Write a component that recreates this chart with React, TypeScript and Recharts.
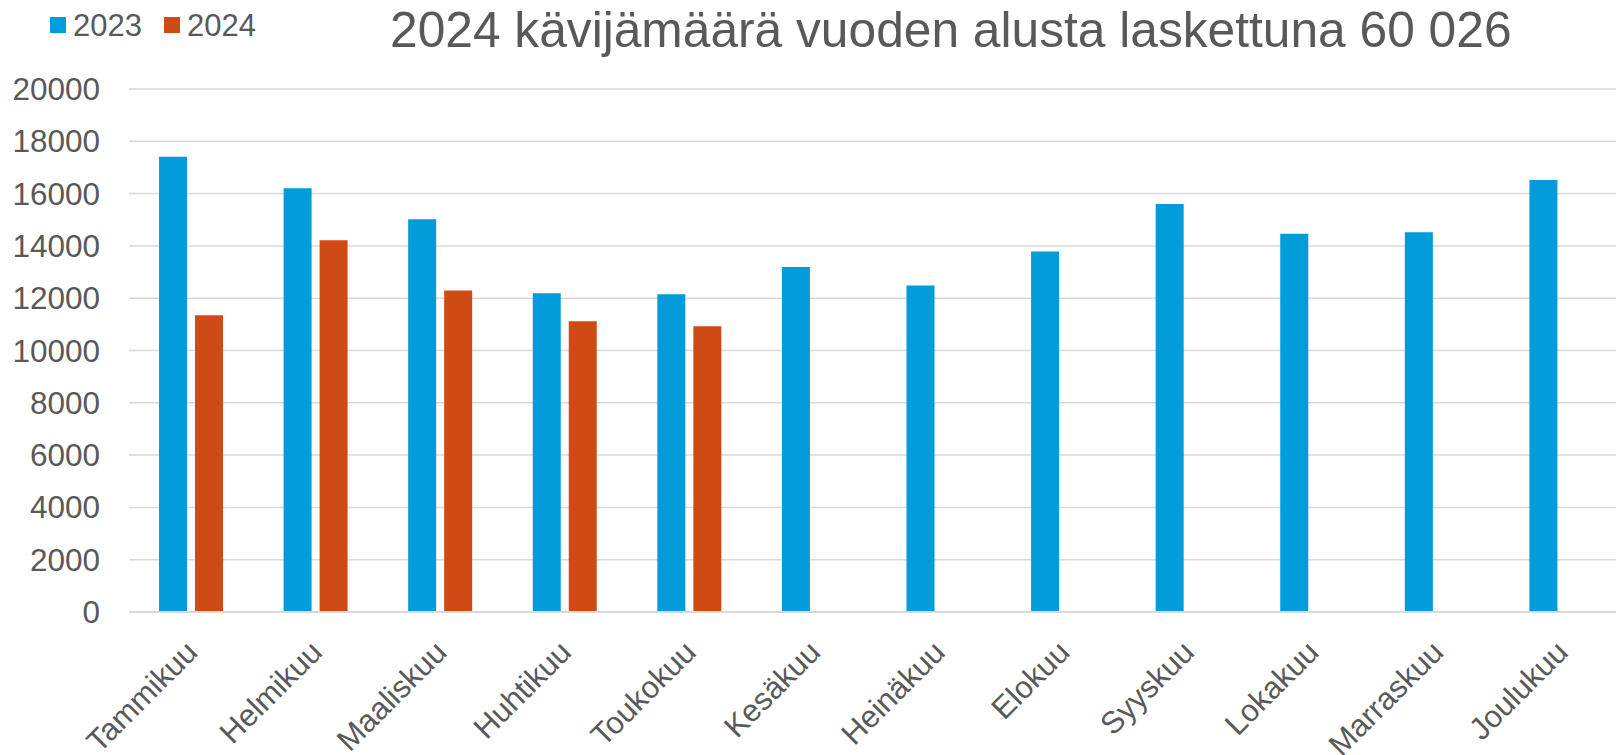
import React from "react";
import { BarChart, Bar, XAxis, YAxis, CartesianGrid } from "recharts";

// values
const months = [
  "Tammikuu",
  "Helmikuu",
  "Maaliskuu",
  "Huhtikuu",
  "Toukokuu",
  "Kesäkuu",
  "Heinäkuu",
  "Elokuu",
  "Syyskuu",
  "Lokakuu",
  "Marraskuu",
  "Joulukuu",
];
const visitors2023 = [17410, 16200, 15020, 12190, 12150, 13190, 12490, 13790, 15600, 14460, 14520, 16520];
const visitors2024: (number | null)[] = [11350, 14220, 12290, 11120, 10930, null, null, null, null, null, null, null];
const yTicks = [0, 2000, 4000, 6000, 8000, 10000, 12000, 14000, 16000, 18000, 20000];
const titleText = "2024 kävijämäärä vuoden alusta laskettuna 60 026";

const BLUE = "#019CD9";
const ORANGE = "#CE4B16";
const TEXT = "#595959";
const GRID = "#D9D9D9";
const FONT = "'Liberation Sans', Arial, sans-serif";

const chartData = months.map((m, i) => ({
  month: m,
  y2023: visitors2023[i],
  y2024: visitors2024[i],
}));

interface TickProps {
  x?: number;
  y?: number;
  payload?: { value: string | number };
}

function YTick({ x = 0, y = 0, payload }: TickProps) {
  return (
    <text x={x} y={y} dy={11} textAnchor="end" fontSize={31.5} fill={TEXT} fontFamily={FONT}>
      {payload?.value}
    </text>
  );
}

// rotated month labels, text ends just right of the category centre
function MonthTick({ x = 0, y = 0, payload }: TickProps) {
  return (
    <g transform={`translate(${x + 8},${y + 42}) rotate(-45)`}>
      <text x={0} y={0} textAnchor="end" fontSize={31} fill={TEXT} fontFamily={FONT}>
        {payload?.value}
      </text>
    </g>
  );
}

function Header() {
  return (
    <svg
      width={1616}
      height={80}
      style={{ position: "absolute", left: 0, top: 0, pointerEvents: "none" }}
    >
      <rect x={50} y={17} width={16} height={16} fill={BLUE} />
      <text x={73} y={36} fontSize={31} fill={TEXT} fontFamily={FONT}>
        2023
      </text>
      <rect x={164} y={17} width={16} height={16} fill={ORANGE} />
      <text x={187} y={36} fontSize={31} fill={TEXT} fontFamily={FONT}>
        2024
      </text>
      <text x={390} y={47} fontSize={49.7} fill={TEXT} fontFamily={FONT}>
        {titleText}
      </text>
    </svg>
  );
}

export default function App() {
  return (
    <div
      style={{
        position: "absolute",
        left: 0,
        top: 0,
        width: 1616,
        height: 755,
        overflow: "hidden",
        background: "#fff",
      }}
    >
      <BarChart
        width={1624}
        height={755}
        data={chartData}
        margin={{ top: 89, right: 0, bottom: 0, left: 0 }}
        barSize={28}
        barGap={8}
      >
        <CartesianGrid vertical={false} stroke={GRID} strokeWidth={1.5} />
        <XAxis
          dataKey="month"
          height={143}
          interval={0}
          tickLine={false}
          tickSize={0}
          tickMargin={0}
          axisLine={{ stroke: GRID, strokeWidth: 2 }}
          tick={<MonthTick />}
        />
        <YAxis
          width={129}
          domain={[0, 20000]}
          ticks={yTicks}
          axisLine={false}
          tickLine={false}
          tickSize={0}
          tickMargin={29}
          tick={<YTick />}
        />
        <Bar dataKey="y2023" name="2023" fill={BLUE} isAnimationActive={false} />
        <Bar dataKey="y2024" name="2024" fill={ORANGE} isAnimationActive={false} />
      </BarChart>
      <Header />
    </div>
  );
}
